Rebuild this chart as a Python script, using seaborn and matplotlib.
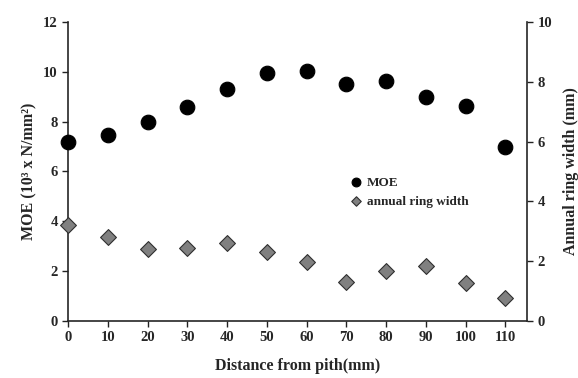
import matplotlib
matplotlib.use("Agg")
import matplotlib.pyplot as plt
import seaborn as sns
import pandas as pd

distance = [0, 10, 20, 30, 40, 50, 60, 70, 80, 90, 100, 110]
moe = [7.2, 7.45, 8.0, 8.6, 9.3, 9.97, 10.05, 9.52, 9.64, 9.0, 8.63, 7.0]
ring_width = [3.21, 2.82, 2.41, 2.43, 2.62, 2.32, 1.96, 1.29, 1.68, 1.85, 1.26, 0.76]

sns.set_style("ticks")
plt.rcParams["font.family"] = ["Liberation Serif", "DejaVu Serif"]
plt.rcParams["font.weight"] = "bold"

df = pd.DataFrame({"distance": distance, "moe": moe, "ring": ring_width})

fig = plt.figure(figsize=(5.78, 3.78), dpi=100)
ax = fig.add_axes([0.118, 0.151, 0.794, 0.791])
ax2 = ax.twinx()

sns.scatterplot(data=df, x="distance", y="moe", ax=ax, marker="o", s=110,
                color="black", edgecolor="black", label="MOE", legend=False,
                clip_on=False, zorder=5)
sns.scatterplot(data=df, x="distance", y="ring", ax=ax2, marker="D", s=65,
                color="#808080", edgecolor="#303030", linewidth=0.8,
                label="annual ring width", legend=False, clip_on=False, zorder=5)

ax.set_xlim(0, 115.5)
ax.set_ylim(0, 12)
ax2.set_ylim(0, 10)
ax.set_xticks(distance)
ax.set_yticks(range(0, 13, 2))
ax2.set_yticks(range(0, 11, 2))

for a in (ax, ax2):
    a.spines["top"].set_visible(False)
    a.tick_params(labelsize=10.5, width=1, length=4, color="#222222")
ax.spines["right"].set_visible(False)
ax2.spines["left"].set_visible(False)
ax2.spines["bottom"].set_visible(False)
for s in ("left", "bottom"):
    ax.spines[s].set_linewidth(1.2)
ax2.spines["right"].set_linewidth(1.2)

ax.set_xlabel("Distance from pith(mm)", fontsize=11.5, fontweight="bold", labelpad=10)
ax.set_ylabel("MOE (10³ x N/mm²)", fontsize=11.5, fontweight="bold")
ax2.set_ylabel("Annual ring width (mm)", fontsize=11.5, fontweight="bold", labelpad=8)

h1, l1 = ax.get_legend_handles_labels()
h2, l2 = ax2.get_legend_handles_labels()
leg = ax2.legend(h1 + h2, l1 + l2, loc="upper left", bbox_to_anchor=(0.585, 0.505),
                 frameon=False, fontsize=9.5, handletextpad=-0.2, labelspacing=0.5,
                 markerscale=0.6, borderpad=0)

fig.savefig("out.png", dpi=100)
